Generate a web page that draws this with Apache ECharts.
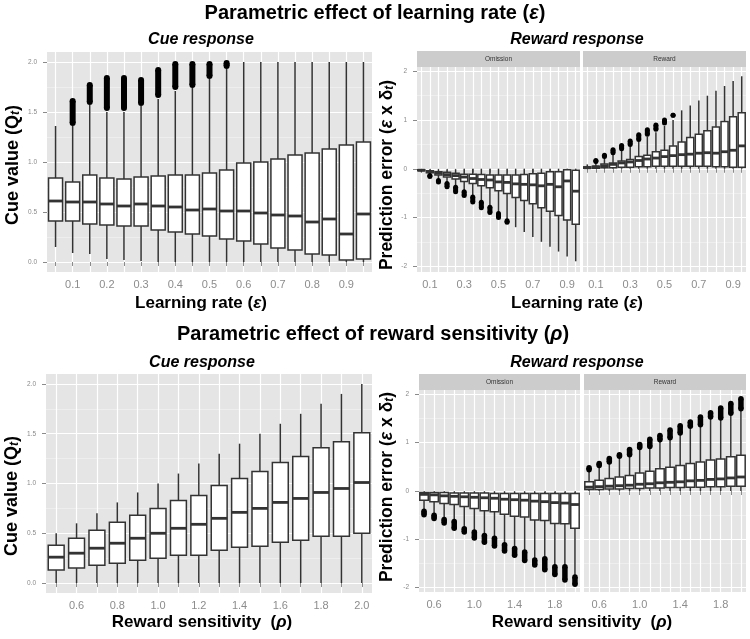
<!DOCTYPE html>
<html>
<head>
<meta charset="utf-8">
<script src="https://cdn.jsdelivr.net/npm/echarts@6/dist/echarts.min.js"></script>
<style>html,body{margin:0;padding:0;background:#fff}#c{width:750px;height:639px}</style>
</head>
<body>
<div id="c"></div>
<script>
// ---------------- DATA ----------------
const lrCats = ['0.05','0.10','0.15','0.20','0.25','0.30','0.35','0.40','0.45','0.50','0.55','0.60','0.65','0.70','0.75','0.80','0.85','0.90','0.95'];
const rsCats = ['0.5','0.6','0.7','0.8','0.9','1.0','1.1','1.2','1.3','1.4','1.5','1.6','1.7','1.8','1.9','2.0'];

const cueTicks = [0, 0.5, 1, 1.5, 2];
const cueMinorTicks = [0.25, 0.75, 1.25, 1.75];
const peTicks = [-2, -1, 0, 1, 2];
const peMinorTicks = [-1.5, -0.5, 0.5, 1.5];

// box stats: [lower whisker, Q1, median, Q3, upper whisker]
const lrCueBoxes = [
  [0.15,0.41,0.61,0.84,1.36],[0.09,0.41,0.60,0.80,1.36],[0.08,0.38,0.60,0.87,1.57],[0.03,0.37,0.58,0.84,1.50],
  [0.02,0.36,0.56,0.83,1.50],[0.01,0.36,0.58,0.85,1.56],[0.00,0.32,0.56,0.86,1.63],[0.00,0.30,0.55,0.87,1.71],
  [0.00,0.28,0.52,0.87,1.74],[0.00,0.26,0.53,0.89,1.83],[0.00,0.23,0.51,0.92,1.93],[0.00,0.21,0.51,0.99,2.00],
  [0.00,0.18,0.49,1.00,2.00],[0.00,0.14,0.47,1.03,2.00],[0.00,0.12,0.46,1.07,2.00],[0.00,0.08,0.40,1.09,2.00],
  [0.00,0.07,0.43,1.13,2.00],[0.00,0.02,0.28,1.17,2.00],[0.00,0.03,0.48,1.20,2.00]
];
// outlier ranges: [low, high] or null
const lrCueOutliers = [null,[1.39,1.61],[1.60,1.77],[1.54,1.84],[1.54,1.84],[1.59,1.82],[1.67,1.92],[1.75,1.98],[1.77,1.98],[1.86,1.98],[1.96,1.99],null,null,null,null,null,null,null,null];

const lrOmBoxes = [
  [-0.07,-0.04,-0.03,-0.02,-0.01],[-0.13,-0.08,-0.06,-0.04,-0.01],[-0.23,-0.13,-0.09,-0.06,-0.01],[-0.30,-0.17,-0.12,-0.07,-0.01],
  [-0.38,-0.21,-0.14,-0.09,-0.01],[-0.47,-0.26,-0.17,-0.11,0],[-0.57,-0.30,-0.20,-0.11,0],[-0.68,-0.35,-0.22,-0.12,0],
  [-0.77,-0.39,-0.23,-0.13,0],[-0.91,-0.45,-0.27,-0.13,0],[-1.06,-0.51,-0.28,-0.13,0],[-1.20,-0.59,-0.31,-0.13,0],
  [-1.30,-0.65,-0.32,-0.12,0],[-1.40,-0.72,-0.33,-0.10,0],[-1.50,-0.80,-0.35,-0.09,0],[-1.60,-0.87,-0.32,-0.06,0],
  [-1.70,-0.96,-0.37,-0.06,0],[-1.80,-1.05,-0.25,-0.02,0],[-1.90,-1.14,-0.46,-0.03,0]
];
const lrOmOutliers = [null,[-0.16,-0.14],[-0.27,-0.24],[-0.37,-0.30],[-0.47,-0.38],[-0.55,-0.47],[-0.68,-0.58],[-0.80,-0.69],[-0.90,-0.79],[-1.00,-0.92],[-1.10,-1.07],null,null,null,null,null,null,null,null];

const lrRwBoxes = [
  [0,0.01,0.02,0.04,0.09],[0,0.01,0.04,0.05,0.14],[0,0.02,0.06,0.10,0.23],[0,0.02,0.09,0.12,0.30],
  [0,0.03,0.12,0.16,0.38],[0,0.03,0.14,0.19,0.46],[0,0.04,0.17,0.25,0.56],[0,0.04,0.20,0.28,0.66],
  [0,0.05,0.22,0.35,0.75],[0,0.05,0.25,0.38,0.88],[0,0.05,0.27,0.47,1.00],[0,0.05,0.29,0.55,1.20],
  [0,0.05,0.30,0.64,1.30],[0,0.05,0.32,0.71,1.40],[0,0.05,0.33,0.78,1.50],[0,0.04,0.32,0.86,1.60],
  [0,0.04,0.35,0.97,1.70],[0,0.03,0.38,1.07,1.80],[0,0.03,0.47,1.15,1.90]
];
const lrRwOutliers = [null,[0.15,0.17],[0.25,0.28],[0.33,0.39],[0.41,0.48],[0.50,0.57],[0.60,0.70],[0.71,0.80],[0.81,0.90],[0.94,1.00],[1.10,1.10],null,null,null,null,null,null,null,null];

const rsCueBoxes = [
  [0,0.13,0.26,0.38,0.50],[0,0.15,0.30,0.45,0.60],[0,0.18,0.35,0.53,0.70],[0,0.20,0.40,0.61,0.81],
  [0,0.23,0.45,0.68,0.91],[0,0.25,0.50,0.75,1.00],[0,0.28,0.55,0.83,1.10],[0,0.28,0.59,0.88,1.20],
  [0,0.33,0.65,0.98,1.30],[0,0.36,0.71,1.05,1.40],[0,0.37,0.75,1.12,1.50],[0,0.41,0.81,1.21,1.60],
  [0,0.43,0.85,1.27,1.70],[0,0.47,0.91,1.36,1.80],[0,0.47,0.95,1.42,1.90],[0,0.50,1.01,1.51,2.00]
];

const rsOmBoxes = [
  [-0.40,-0.19,-0.07,-0.03,-0.01],[-0.47,-0.22,-0.08,-0.03,-0.01],[-0.57,-0.26,-0.10,-0.03,-0.01],[-0.61,-0.28,-0.11,-0.04,-0.01],
  [-0.76,-0.32,-0.12,-0.04,-0.01],[-0.83,-0.36,-0.13,-0.04,-0.01],[-0.90,-0.41,-0.14,-0.04,-0.01],[-0.96,-0.43,-0.15,-0.05,-0.01],
  [-1.09,-0.48,-0.17,-0.05,-0.01],[-1.17,-0.52,-0.18,-0.05,-0.01],[-1.24,-0.54,-0.19,-0.05,-0.01],[-1.41,-0.60,-0.21,-0.05,-0.01],
  [-1.38,-0.61,-0.22,-0.05,-0.01],[-1.55,-0.67,-0.24,-0.05,-0.01],[-1.55,-0.68,-0.25,-0.05,-0.01],[-1.76,-0.77,-0.28,-0.05,-0.01]
];
const rsOmOutliers = [[-0.49,-0.42],[-0.57,-0.50],[-0.66,-0.59],[-0.77,-0.63],[-0.85,-0.78],[-0.97,-0.85],[-1.06,-0.92],[-1.14,-0.98],
  [-1.24,-1.11],[-1.33,-1.19],[-1.44,-1.26],[-1.53,-1.43],[-1.63,-1.40],[-1.73,-1.57],[-1.84,-1.57],[-1.93,-1.78]];

const rsRwBoxes = [
  [0,0.03,0.08,0.19,0.42],[0,0.03,0.09,0.22,0.51],[0,0.04,0.10,0.26,0.58],[0,0.04,0.11,0.29,0.70],
  [0,0.05,0.12,0.32,0.73],[0,0.05,0.14,0.37,0.88],[0,0.06,0.15,0.41,0.90],[0,0.06,0.17,0.46,1.04],
  [0,0.07,0.18,0.49,1.08],[0,0.07,0.19,0.53,1.18],[0,0.08,0.21,0.57,1.32],[0,0.08,0.22,0.60,1.35],
  [0,0.09,0.24,0.64,1.51],[0,0.09,0.25,0.66,1.49],[0,0.10,0.27,0.71,1.59],[0,0.10,0.29,0.74,1.68]
];
const rsRwOutliers = [[0.44,0.48],[0.53,0.57],[0.60,0.67],[0.72,0.75],[0.75,0.86],[0.90,0.96],[0.92,1.07],[1.06,1.15],
  [1.10,1.26],[1.20,1.35],[1.34,1.43],[1.37,1.53],[1.53,1.62],[1.51,1.72],[1.61,1.81],[1.70,1.91]];

// ---------------- STYLE / BUILD ----------------
const FONT = "'Liberation Sans', Arial, sans-serif";
const boxStroke = '#333333';
const panelBg = '#e5e5e5';
const stripBg = '#cccccc';
const axisGrey = '#8a8a8a';

const gridDefs = [
  {left:47, top:52, width:325, height:220},
  {left:417, top:67, width:163, height:205},
  {left:583, top:67, width:163, height:205},
  {left:46, top:374, width:326, height:219},
  {left:419, top:390, width:161, height:202},
  {left:584, top:390, width:162, height:202}
];
const grids = gridDefs.map(g => Object.assign({show:true, backgroundColor:panelBg, borderWidth:0, containLabel:false, outerBoundsMode:'none'}, g));

function catAxis(gi, cats, every) {
  return {
    type:'category', gridIndex:gi, data:cats, boundaryGap:true,
    axisLine:{show:false},
    axisTick:{show:true, interval:0, alignWithLabel:true, length:4, lineStyle:{color:axisGrey, width:1}},
    axisLabel:{interval:(i) => i % every === 1, formatter:(v) => Number(v).toFixed(1), color:'#8c8c8c', fontSize:11, margin:7, fontFamily:FONT},
    splitLine:{show:true, interval:0, alignWithLabel:true, lineStyle:{color:'#ffffff', width:1.2}}
  };
}
function valAxis(gi, min, max, ticks, showLabels, fmt) {
  return {
    type:'value', gridIndex:gi, min:min, max:max,
    axisLine:{show:false},
    axisTick:{show:showLabels, length:4, customValues:ticks, lineStyle:{color:axisGrey, width:1}},
    axisLabel:{show:showLabels, customValues:ticks, formatter:fmt, color:axisGrey, fontSize:6.5, margin:10, fontFamily:FONT},
    splitLine:{show:true, lineStyle:{color:'#ffffff', width:1.2}}
  };
}
function minorAxis(gi, min, max, ticks) {
  return {
    type:'value', gridIndex:gi, min:min, max:max, position:'left',
    axisLine:{show:false}, axisTick:{show:false, customValues:ticks}, axisLabel:{show:false},
    splitLine:{show:true, lineStyle:{color:'#f3f3f3', width:0.6}}
  };
}
const fmt1 = (v) => v.toFixed(1);
const fmt0 = (v) => String(Math.round(v));

const cueRange = [-0.1, 2.1];
const pe1Range = [-2.12, 2.09];
const pe2Range = [-2.09, 2.09];

const xAxes = [
  catAxis(0, lrCats, 2), catAxis(1, lrCats, 4), catAxis(2, lrCats, 4),
  catAxis(3, rsCats, 2), catAxis(4, rsCats, 4), catAxis(5, rsCats, 4)
];
const yAxes = [
  valAxis(0, cueRange[0], cueRange[1], cueTicks, true, fmt1),
  valAxis(1, pe1Range[0], pe1Range[1], peTicks, true, fmt0),
  valAxis(2, pe1Range[0], pe1Range[1], peTicks, false, fmt0),
  valAxis(3, cueRange[0], cueRange[1], cueTicks, true, fmt1),
  valAxis(4, pe2Range[0], pe2Range[1], peTicks, true, fmt0),
  valAxis(5, pe2Range[0], pe2Range[1], peTicks, false, fmt0),
  minorAxis(0, cueRange[0], cueRange[1], cueMinorTicks),
  minorAxis(1, pe1Range[0], pe1Range[1], peMinorTicks),
  minorAxis(2, pe1Range[0], pe1Range[1], peMinorTicks),
  minorAxis(3, cueRange[0], cueRange[1], cueMinorTicks),
  minorAxis(4, pe2Range[0], pe2Range[1], peMinorTicks),
  minorAxis(5, pe2Range[0], pe2Range[1], peMinorTicks)
];

function renderBox(frac) {
  return function (params, api) {
    const i = api.value(0);
    const c = [1, 2, 3, 4, 5].map(k => api.coord([i, api.value(k)]));
    const bw = api.size([1, 0])[0] * frac;
    const cx = c[0][0];
    const top = Math.min(c[1][1], c[3][1]);
    const h = Math.abs(c[1][1] - c[3][1]);
    return {type:'group', children:[
      {type:'line', shape:{x1:cx, y1:c[0][1], x2:cx, y2:c[4][1]}, style:{stroke:boxStroke, lineWidth:1.5}},
      {type:'rect', shape:{x:cx - bw / 2, y:top, width:bw, height:h}, style:{fill:'#ffffff', stroke:boxStroke, lineWidth:1.5}},
      {type:'line', shape:{x1:cx - bw / 2, y1:c[2][1], x2:cx + bw / 2, y2:c[2][1]}, style:{stroke:boxStroke, lineWidth:2.8}}
    ]};
  };
}
function renderOut(d) {
  return function (params, api) {
    const i = api.value(0);
    const a = api.coord([i, api.value(1)]);
    const b = api.coord([i, api.value(2)]);
    return {type:'group', children:[
      {type:'rect', shape:{x:a[0] - d / 2, y:Math.min(a[1], b[1]), width:d, height:Math.abs(a[1] - b[1])}, style:{fill:'#000'}},
      {type:'circle', shape:{cx:a[0], cy:a[1], r:d / 2}, style:{fill:'#000'}},
      {type:'circle', shape:{cx:b[0], cy:b[1], r:d / 2}, style:{fill:'#000'}}
    ]};
  };
}
function boxSeries(ai, boxes, frac) {
  return {type:'custom', xAxisIndex:ai, yAxisIndex:ai, renderItem:renderBox(frac), z:5, silent:true,
    encode:{x:0, y:[1, 2, 3, 4, 5]}, data:boxes.map((b, i) => [i].concat(b))};
}
function outSeries(ai, outs, d) {
  const data = [];
  outs.forEach((o, i) => { if (o) data.push([i, o[0], o[1]]); });
  return {type:'custom', xAxisIndex:ai, yAxisIndex:ai, renderItem:renderOut(d), z:6, silent:true,
    encode:{x:0, y:[1, 2]}, data:data};
}

const series = [
  boxSeries(0, lrCueBoxes, 0.82), outSeries(0, lrCueOutliers, 6),
  boxSeries(1, lrOmBoxes, 0.82), outSeries(1, lrOmOutliers, 5),
  boxSeries(2, lrRwBoxes, 0.82), outSeries(2, lrRwOutliers, 5),
  boxSeries(3, rsCueBoxes, 0.78),
  boxSeries(4, rsOmBoxes, 0.84), outSeries(4, rsOmOutliers, 5.5),
  boxSeries(5, rsRwBoxes, 0.84), outSeries(5, rsRwOutliers, 5.5)
];

// ---------------- TEXT / DECOR ----------------
function txt(x, y, text, size, opts) {
  opts = opts || {};
  return {type:'text', x:x, y:y, rotation:opts.rot || 0, z:10, silent:true,
    style:Object.assign({text:text, fontSize:size, fontWeight:opts.weight || 'bold', fontStyle:opts.style || 'normal',
      fontFamily:FONT, fill:opts.color || '#000', align:'center', verticalAlign:'middle', rich:opts.rich || {}}, opts.extra || {})};
}
function greek(size) { return {g:{fontSize:size, fontWeight:'bold', fontStyle:'italic', fontFamily:FONT, fill:'#000'}}; }
function subRich(size) {
  return {
    s:{fontSize:size * 0.68, fontWeight:'bold', fontStyle:'italic', fontFamily:FONT, fill:'#000', verticalAlign:'bottom', lineHeight:size * 0.68, padding:[size * 0.45, 0, 0, 0]},
    g:{fontSize:size, fontWeight:'bold', fontStyle:'italic', fontFamily:FONT, fill:'#000'}
  };
}
function strip(x, y, w, label) {
  return [
    {type:'rect', shape:{x:x, y:y, width:w, height:16}, style:{fill:stripBg}, z:1, silent:true},
    txt(x + w / 2, y + 8, label, 6.5, {weight:'normal', color:'#333'})
  ];
}

const graphic = [].concat(
  [
    txt(375, 13, 'Parametric effect of learning rate ({g|ε})', 20, {rich:greek(20)}),
    txt(201, 40, 'Cue response', 16, {style:'italic'}),
    txt(577, 40, 'Reward response', 16, {style:'italic'}),
    txt(201, 303, 'Learning rate ({g|ε})', 17, {rich:greek(17)}),
    txt(577, 303, 'Learning rate ({g|ε})', 17, {rich:greek(17)}),
    txt(13, 165, 'Cue value (Q{s|t})', 18, {rot:Math.PI / 2, rich:subRich(18)}),
    txt(387, 175, 'Prediction error ({g|ε} x δ{s|t})', 17.5, {rot:Math.PI / 2, rich:subRich(17.5)}),
    txt(373, 334, 'Parametric effect of reward sensitivity ({g|ρ})', 20, {rich:greek(20)}),
    txt(202, 363, 'Cue response', 16, {style:'italic'}),
    txt(577, 363, 'Reward response', 16, {style:'italic'}),
    txt(202, 622, 'Reward sensitivity  ({g|ρ})', 17, {rich:greek(17)}),
    txt(582, 622, 'Reward sensitivity  ({g|ρ})', 17, {rich:greek(17)}),
    txt(12, 496, 'Cue value (Q{s|t})', 18, {rot:Math.PI / 2, rich:subRich(18)}),
    txt(387, 487, 'Prediction error ({g|ε} x δ{s|t})', 17.5, {rot:Math.PI / 2, rich:subRich(17.5)})
  ],
  strip(417, 51, 163, 'Omission'), strip(583, 51, 163, 'Reward'),
  strip(419, 374, 161, 'Omission'), strip(584, 374, 162, 'Reward')
);

const chart = echarts.init(document.getElementById('c'));
chart.setOption({
  animation:false,
  backgroundColor:'#ffffff',
  grid:grids,
  xAxis:xAxes,
  yAxis:yAxes,
  series:series,
  graphic:graphic
});
</script>
</body>
</html>
